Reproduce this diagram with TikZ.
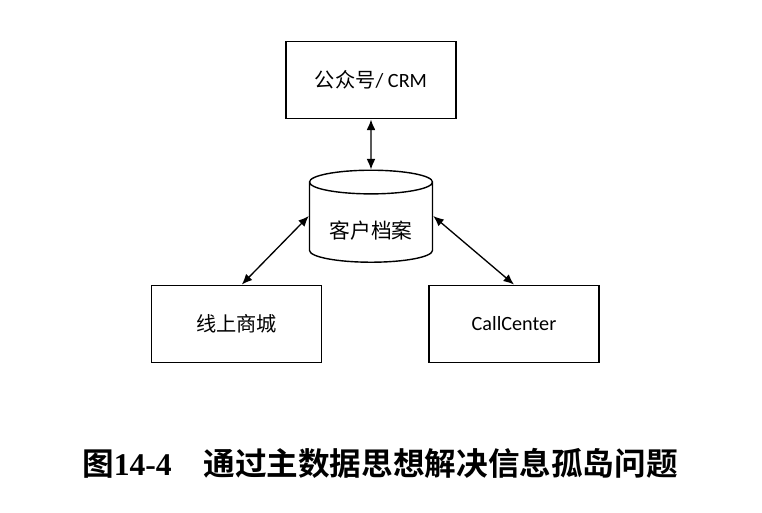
\documentclass[tikz,border=0pt]{standalone}
\usepackage{fontspec}
\setmainfont{Carlito}
\newfontfamily\cjk{Noto Sans CJK SC}
\newfontfamily\capcjk{Noto Sans CJK SC}[BoldFont=* Bold]
\newfontfamily\capnum{Liberation Serif}
\usetikzlibrary{arrows.meta}
\usetikzlibrary{calc,positioning,shapes.geometric}

\tikzset{
  box/.style={draw, rectangle, line width=0.8pt, minimum width=3.4cm, minimum height=1.55cm, font=\fontsize{11.5}{13}\selectfont},
  store/.style={draw, cylinder, shape border rotate=90, aspect=0.25, line width=0.8pt, minimum width=2.46cm, minimum height=1.84cm, font=\fontsize{11.8}{13}\selectfont},
  link/.style={{Latex[length=6pt,width=5pt]}-{Latex[length=6pt,width=5pt]}, line width=0.75pt}
}

\begin{document}
\begin{tikzpicture}[node distance=2.9cm, auto]
  \useasboundingbox (0,0) rectangle (15.24,-10.24);

  \node[box] (CRM) at (7.42,-1.60) {{\cjk 公众号}/ CRM};
  \node[store, below of=CRM] (DB) {\raisebox{-0.26cm}[0pt][0pt]{\cjk 客户档案}};
  \node[box, below of=DB, node distance=1.98cm, xshift=-2.69cm] (MALL) {\cjk 线上商城};
  \node[box, below of=DB, node distance=1.98cm, xshift=2.86cm] (CC) {CallCenter};

  \draw[link] (CRM) to (DB) ;
  \draw[link] ([xshift=3pt]MALL.north) to ([yshift=0.18cm]DB.west) ;
  \draw[link] ([yshift=0.18cm]DB.east) to (CC.north) ;

  \node (CAP) at (7.60,-9.26) {\fontsize{18}{20}\selectfont\bfseries{\capcjk 图}{\capnum 14-4}\hspace{1.0em}{\capcjk 通过主数据思想解决信息孤岛问题}};
\end{tikzpicture}
\end{document}
